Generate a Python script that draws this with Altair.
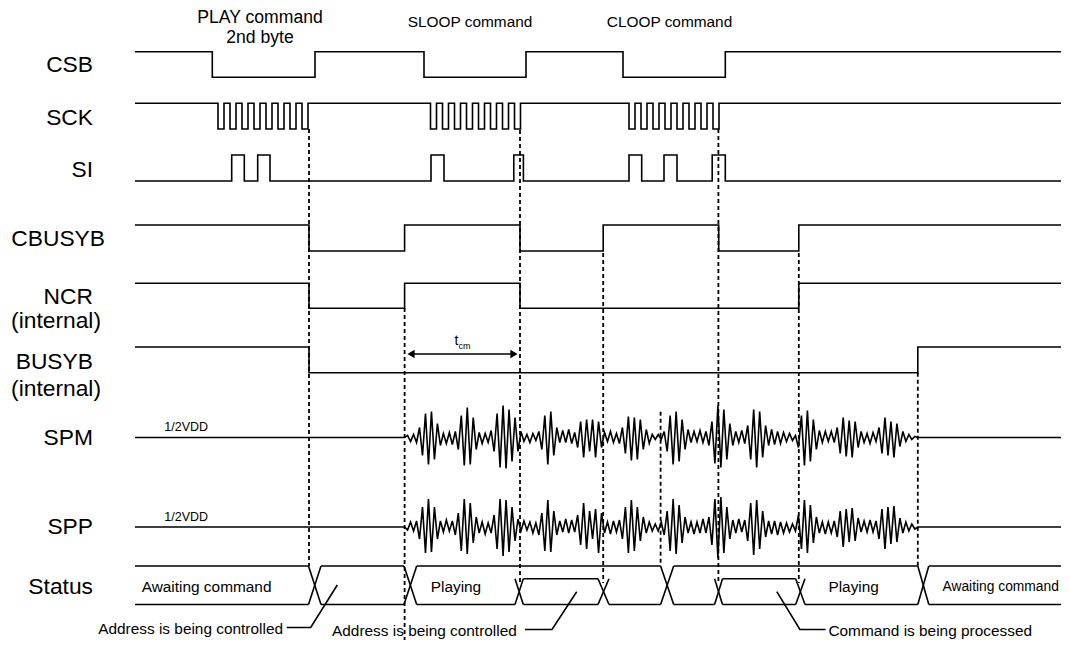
import altair as alt
import pandas as pd

# ---------------- data (time in drawing units, levels 0/1) ----------------
T_START, T_END = 135, 1069

CSB_EDGES = [212.3, 315, 424, 526, 623, 725.3]
SCK_FALLS = [218, 230, 242, 254, 266, 278, 290, 302,
             430.5, 442.5, 454.5, 466.5, 478.5, 490.5, 502.5, 514.5,
             629, 641, 653, 665, 677, 689, 701, 713]
SCK_LOW = 6
SI_EDGES = [231.7, 244.3, 257.7, 270, 431, 444, 513.8, 523.4,
            629, 641.7, 664, 677, 712.2, 725.3]
CBUSYB_EDGES = [309, 404.6, 520, 603.2, 718.7, 798.8]
NCR_EDGES = [309, 404.6, 520, 798.8]
BUSYB_EDGES = [309, 917.8]

SIGNALS = ["CSB", "SCK", "SI", "CBUSYB", "NCR", "BUSYB"]
INIT_LEVEL = {"CSB": 1, "SCK": 1, "SI": 0, "CBUSYB": 1, "NCR": 1, "BUSYB": 1}

# analog outputs: playback window and half-cycle amplitudes
PLAY_START, PLAY_END = 404.6, 917.8
SPM_AMP = [2, 4, 3, 5, 10, 18, 24, 27, 26, 22, 14, 8, 4, 6, 5, 7, 6,
           12, 22, 28, 30, 27, 20, 12, 5, 6, 4, 5, 7,
           14, 24, 30, 32, 31, 28, 24, 20, 14, 6, 4, 3, 5, 4, 3, 6,
           12, 22, 27, 26, 18, 10, 5, 7, 5, 8, 6, 5,
           10, 16, 20, 18, 14, 18, 20, 16, 10, 5, 4, 6, 5, 4, 6,
           10, 16, 21, 23, 20, 22, 18, 12, 8, 6, 3, 2, 3, 2,
           6, 14, 22, 27, 26, 24, 18, 12, 8, 5, 6, 4, 7, 5, 6, 8,
           16, 26, 32, 30, 28, 22, 14, 8, 6, 5, 7, 6,
           12, 22, 28, 30, 26, 20, 12, 8, 8, 7, 6, 6, 5, 4, 4, 3, 2,
           10, 22, 28, 27, 24, 18, 12, 7, 5, 6, 4, 6, 5,
           10, 16, 20, 19, 17, 20, 16, 10, 6, 5, 4, 6, 5, 4,
           10, 16, 20, 18, 16, 20, 14, 9, 6, 4, 3, 2, 1]
SPP_AMP = [3, 5, 4, 6, 12, 20, 26, 28, 25, 20, 12, 6, 5, 7, 4, 6, 8,
           14, 24, 28, 27, 24, 16, 10, 6, 5, 7, 4, 6,
           12, 22, 28, 29, 27, 25, 20, 14, 8, 4, 6, 3, 5, 6, 4, 8,
           14, 24, 27, 25, 16, 8, 6, 5, 8, 6, 7, 5,
           12, 18, 24, 22, 16, 12, 18, 26, 14, 6, 5, 7, 6, 5, 7,
           12, 20, 26, 27, 24, 20, 14, 10, 6, 5, 4, 3, 4, 5,
           8, 16, 24, 28, 27, 22, 16, 10, 6, 5, 7, 5, 6, 8, 6, 10,
           18, 28, 31, 30, 26, 20, 12, 7, 6, 8, 5, 7,
           14, 24, 28, 27, 22, 16, 10, 6, 7, 6, 8, 5, 6, 4, 5, 3, 4,
           12, 22, 27, 26, 22, 16, 10, 6, 5, 7, 5, 6, 6,
           10, 16, 20, 18, 15, 19, 14, 9, 5, 6, 5, 7, 5, 6,
           12, 18, 22, 20, 17, 21, 15, 9, 6, 5, 4, 3, 2]

# status bus
STATUS_BIG_X = [(308.5, 321), (404, 416.7), (660.6, 673.7), (917.8, 928.8)]
STATUS_SUB = [(515, 523.3, 598, 609), (714.6, 722.5, 795.7, 805)]
STATUS_TEXT = ["Awaiting command", "Playing", "Playing", "Awaiting command"]
STATUS_TEXT_T = [141.7, 430.7, 828.4, 942.5]

MARKER_T = [309, 404.6, 520, 603.2, 660.6, 718.4, 798.8, 917.8]
TCM = (406, 519)

COMMANDS = ["PLAY command", "2nd byte", "SLOOP command", "CLOOP command"]
NOTES = ["Address is being controlled", "Address is being controlled",
         "Command is being processed"]

# ---------------- layout ----------------
ROW = {"CSB": (51.7, 77.3), "SCK": (103.3, 129), "SI": (155, 181),
       "CBUSYB": (225, 251), "NCR": (283.3, 308.3), "BUSYB": (347, 372.7)}
SPM_Y, SPP_Y = 437.5, 527
ST_TOP, ST_MID, ST_BOT = 566, 578.7, 604.5
MARKER_SPAN = [(129, 566), (308, 646), (130, 583), (253, 583), (411.7, 566),
               (129, 583), (253, 583), (372.7, 566)]
NOTE1_Y = 628.5
NOTE_Y = 630.5
FONT = "Liberation Sans"
TXT = 15.4

# ---------------- build line vertices ----------------
rows = []
seg = [0]


def add(points):
    seg[0] += 1
    for i, (x, y) in enumerate(points):
        rows.append({"seg": seg[0], "i": i, "x": x, "y": y})


edges = {"CSB": CSB_EDGES, "SI": SI_EDGES, "CBUSYB": CBUSYB_EDGES,
         "NCR": NCR_EDGES, "BUSYB": BUSYB_EDGES}
edges["SCK"] = sorted(SCK_FALLS + [f + SCK_LOW for f in SCK_FALLS])

for name in SIGNALS:
    hi, lo = ROW[name]
    lvl = INIT_LEVEL[name]
    pts = [(T_START, hi if lvl else lo)]
    for e in edges[name]:
        pts.append((e, hi if lvl else lo))
        lvl = 1 - lvl
        pts.append((e, hi if lvl else lo))
    pts.append((T_END, hi if lvl else lo))
    add(pts)


def analog(base, amps, sign):
    step = (PLAY_END - PLAY_START) / (len(amps) + 1)
    pts = [(T_START, base), (PLAY_START, base)]
    for k, a in enumerate(amps):
        s = sign if k % 2 == 0 else -sign
        pts.append((PLAY_START + (k + 1) * step, base - s * a))
    pts += [(PLAY_END, base), (T_END, base)]
    add(pts)


analog(SPM_Y, SPM_AMP, 1)
analog(SPP_Y, SPP_AMP, -1)

# status bus outlines
top_cuts = [T_START]
for a, b in STATUS_BIG_X:
    top_cuts += [a, b]
top_cuts.append(T_END)
for k in range(0, len(top_cuts), 2):
    add([(top_cuts[k], ST_TOP), (top_cuts[k + 1], ST_TOP)])
bot_cuts = [T_START]
for a, b in STATUS_BIG_X[:2]:
    bot_cuts += [a, b]
for a1, b1, a2, b2 in STATUS_SUB[:1]:
    bot_cuts += [a1, b1, a2, b2]
bot_cuts += list(STATUS_BIG_X[2])
for a1, b1, a2, b2 in STATUS_SUB[1:]:
    bot_cuts += [a1, b1, a2, b2]
bot_cuts += list(STATUS_BIG_X[3])
bot_cuts.append(T_END)
for k in range(0, len(bot_cuts), 2):
    add([(bot_cuts[k], ST_BOT), (bot_cuts[k + 1], ST_BOT)])
for a, b in STATUS_BIG_X:
    add([(a, ST_TOP), (b, ST_BOT)])
    add([(a, ST_BOT), (b, ST_TOP)])
for a1, b1, a2, b2 in STATUS_SUB:
    add([(b1, ST_MID), (a2, ST_MID)])
    for a, b in [(a1, b1), (a2, b2)]:
        add([(a, ST_MID), (b, ST_BOT)])
        add([(a, ST_BOT), (b, ST_MID)])

# annotation leaders
add([(337.3, 585), (310.7, NOTE1_Y - 1), (286.7, NOTE1_Y - 1)])
add([(576.7, 591.7), (552, NOTE_Y - 1), (525, NOTE_Y - 1)])
add([(776.8, 591.7), (799.9, NOTE_Y - 1), (825.6, NOTE_Y - 1)])
# t_cm dimension line
add([(TCM[0] + 6, 354), (TCM[1] - 6, 354)])

lines_df = pd.DataFrame(rows)

marker_df = pd.DataFrame({"x": MARKER_T,
                          "y": [s[0] for s in MARKER_SPAN],
                          "y2": [s[1] for s in MARKER_SPAN]})

XS = alt.Scale(domain=[8, 1061], nice=False, zero=False)
YS = alt.Scale(domain=[8, 640], nice=False, zero=False, reverse=True)


def X(f="x"):
    return alt.X(f"{f}:Q", scale=XS, axis=None)


def Y(f="y"):
    return alt.Y(f"{f}:Q", scale=YS, axis=None)


lines = alt.Chart(lines_df).mark_line(color="black", strokeWidth=1.6,
                                      strokeJoin="miter", clip=True).encode(
    x=X(), y=Y(), detail="seg:N", order="i:Q")

markers = alt.Chart(marker_df).mark_rule(color="black", strokeWidth=1.8,
                                         strokeDash=[4, 3], clip=True).encode(
    x=X(), y=Y(), y2="y2:Q")

arrow_l = alt.Chart(pd.DataFrame({"x": [TCM[0] + 5], "y": [354]})).mark_point(
    shape="triangle-left", filled=True, color="black", size=70, opacity=1).encode(x=X(), y=Y())
arrow_r = alt.Chart(pd.DataFrame({"x": [TCM[1] - 5], "y": [354]})).mark_point(
    shape="triangle-right", filled=True, color="black", size=70, opacity=1).encode(x=X(), y=Y())

sig_labels = pd.DataFrame({
    "t": ["CSB", "SCK", "SI", "CBUSYB", "NCR", "(internal)", "BUSYB",
          "(internal)", "SPM", "SPP", "Status"],
    "x": [93, 93, 93, 105, 93, 101, 93, 101, 93, 93, 93],
    "y": [65, 118.3, 170, 239.3, 296.7, 321, 361.7, 389, 438.3, 526.7, 587],
})
lab = alt.Chart(sig_labels).mark_text(align="right", baseline="middle",
                                      font=FONT, fontSize=22.8, color="black").encode(
    x=X(), y=Y(), text="t:N")

cmd_df = pd.DataFrame({"t": COMMANDS, "x": [260, 260, 470, 669.5],
                       "y": [18.3, 37.7, 21.7, 21.7], "s": [17.6, 17.6, TXT, TXT]})
cmd = alt.Chart(cmd_df).mark_text(align="center", baseline="middle", font=FONT,
                                  color="black").encode(
    x=X(), y=Y(), text="t:N", size=alt.Size("s:Q", scale=None, legend=None))

left_df = pd.DataFrame({
    "t": STATUS_TEXT + NOTES[1:] + ["1/2VDD", "1/2VDD", "cm"],
    "x": STATUS_TEXT_T + [332, 828.4, 164.3, 164.3, 458.5],
    "y": [587, 587, 587, 587, NOTE_Y, NOTE_Y, 427, 517, 346],
    "s": [TXT, TXT, TXT, 13.8, TXT, TXT, 12.5, 12.5, 9],
})
left_txt = alt.Chart(left_df).mark_text(align="left", baseline="middle", font=FONT,
                                        color="black").encode(
    x=X(), y=Y(), text="t:N", size=alt.Size("s:Q", scale=None, legend=None))

right_df = pd.DataFrame({"t": [NOTES[0], "t"], "x": [283, 458.5],
                         "y": [NOTE1_Y, 340.5], "s": [TXT, 14]})
right_txt = alt.Chart(right_df).mark_text(align="right", baseline="middle", font=FONT,
                                          color="black").encode(
    x=X(), y=Y(), text="t:N", size=alt.Size("s:Q", scale=None, legend=None))

chart = alt.layer(markers, lines, arrow_l, arrow_r, lab, cmd, left_txt, right_txt).properties(
    width=1053, height=632, padding=0,
    autosize=alt.AutoSizeParams(type="none"),
    background="white",
).configure_view(stroke=None)

chart.save("out.html", embed_options={"renderer": "svg", "actions": False})
